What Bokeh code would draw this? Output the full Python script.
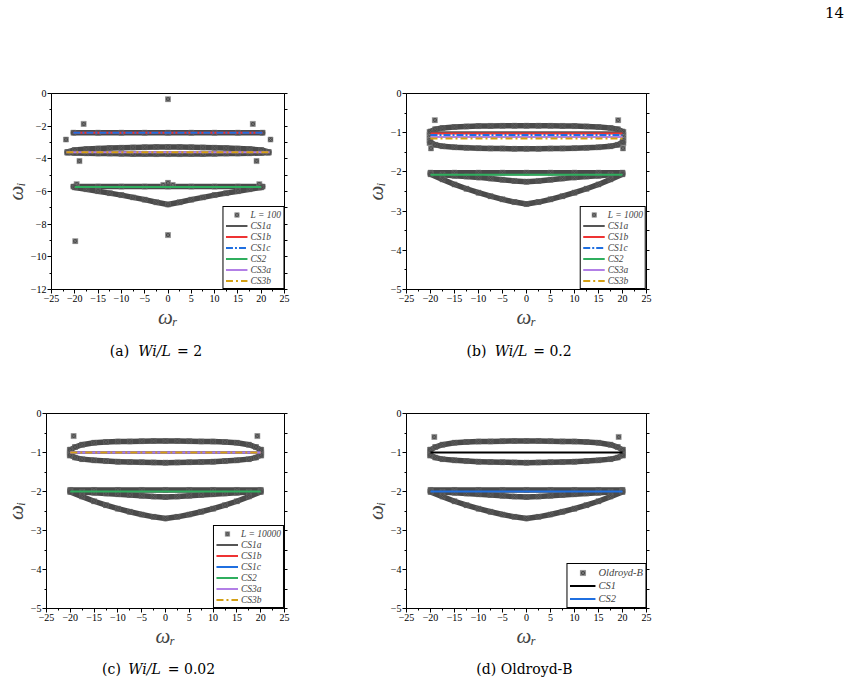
from bokeh.plotting import figure
from bokeh.layouts import column, row
from bokeh.models import Range1d, FixedTicker, LinearAxis, Legend, LegendItem, Label
from bokeh.embed import file_html
from bokeh.resources import INLINE

# ---------------- ticks ----------------
X_TICKS = [-25, -20, -15, -10, -5, 0, 5, 10, 15, 20, 25]
X_MINOR = [-22.5, -17.5, -12.5, -7.5, -2.5, 2.5, 7.5, 12.5, 17.5, 22.5]
YA_TICKS = [0, -2, -4, -6, -8, -10, -12]
YA_MINOR = [-1, -3, -5, -7, -9, -11]
YB_TICKS = [0, -1, -2, -3, -4, -5]
YB_MINOR = [-0.5, -1.5, -2.5, -3.5, -4.5]

# ---------------- panel (a): Wi/L = 2, L = 100 ----------------
A_BAND1_X = [-20.3, -15, -10, -5, 0, 5, 10, 15, 20.3]
A_BAND1_Y = [-2.40, -2.40, -2.40, -2.40, -2.40, -2.40, -2.40, -2.40, -2.40]
A_BAND2_X = [-21.6, -20, -17.5, -15, -12.5, -10, -7.5, -5, -2.5, 0, 2.5, 5, 7.5, 10, 12.5, 15, 17.5, 20, 21.6]
A_BAND2U_Y = [-3.58, -3.46, -3.40, -3.37, -3.34, -3.32, -3.30, -3.29, -3.28, -3.28, -3.28, -3.29, -3.30, -3.32, -3.34, -3.37, -3.40, -3.46, -3.58]
A_BAND2L_Y = [-3.62, -3.64, -3.66, -3.67, -3.68, -3.69, -3.70, -3.70, -3.71, -3.71, -3.71, -3.70, -3.70, -3.69, -3.68, -3.67, -3.66, -3.64, -3.62]
A_BAND3_X = [-20.3, -15, -10, -5, 0, 5, 10, 15, 20.3]
A_BAND3_Y = [-5.70, -5.70, -5.70, -5.70, -5.70, -5.70, -5.70, -5.70, -5.70]
A_V_X = [-20, -17.5, -15, -12.5, -10, -7.5, -5, -2.5, 0, 2.5, 5, 7.5, 10, 12.5, 15, 17.5, 20]
A_V_Y = [-5.75, -5.86, -5.98, -6.10, -6.22, -6.36, -6.50, -6.66, -6.80, -6.66, -6.50, -6.36, -6.22, -6.10, -5.98, -5.86, -5.75]
A_ISO_X = [0, -18.1, 18.2, -21.9, 22.0, -19.0, 19.0, -19.6, 19.6, -1.0, 0, 1.0, -19.9, 0]
A_ISO_Y = [-0.35, -1.86, -1.86, -2.82, -2.82, -4.14, -4.14, -5.55, -5.55, -5.60, -5.47, -5.60, -9.04, -8.67]
A_CS1_X = [-20.3, 20.3]
A_CS1A_Y = [-2.40, -2.40]
A_CS1B_Y = [-2.40, -2.40]
A_CS1C_Y = [-2.40, -2.40]
A_CS2_X = [-20, 20]
A_CS2_Y = [-5.73, -5.73]
A_CS3_X = [-21.8, 21.8]
A_CS3A_Y = [-3.60, -3.60]
A_CS3B_Y = [-3.60, -3.60]

# ---------------- panel (b): Wi/L = 0.2, L = 1000 ----------------
B_LENS_X = [-20, -19, -17.5, -15, -12.5, -10, -7.5, -5, -2.5, 0, 2.5, 5, 7.5, 10, 12.5, 15, 17.5, 19, 20]
B_LENSU_Y = [-0.97, -0.91, -0.88, -0.855, -0.84, -0.832, -0.827, -0.825, -0.823, -0.823, -0.823, -0.825, -0.827, -0.832, -0.84, -0.855, -0.88, -0.91, -0.97]
B_LENSL_Y = [-1.24, -1.31, -1.345, -1.37, -1.385, -1.395, -1.40, -1.405, -1.41, -1.41, -1.41, -1.405, -1.40, -1.395, -1.385, -1.37, -1.345, -1.31, -1.24]
B_FLAT_X = [-20, -15, -10, -5, 0, 5, 10, 15, 20]
B_FLAT_Y = [-2.02, -2.02, -2.02, -2.02, -2.02, -2.02, -2.02, -2.02, -2.02]
B_LOW_X = [-20, -17.5, -15, -12.5, -10, -7.5, -5, -2.5, 0, 2.5, 5, 7.5, 10, 12.5, 15, 17.5, 20]
B_ARC_Y = [-2.04, -2.07, -2.10, -2.12, -2.14, -2.17, -2.20, -2.23, -2.25, -2.23, -2.20, -2.17, -2.14, -2.12, -2.10, -2.07, -2.04]
B_V_Y = [-2.06, -2.19, -2.32, -2.43, -2.53, -2.62, -2.70, -2.77, -2.82, -2.77, -2.70, -2.62, -2.53, -2.43, -2.32, -2.19, -2.06]
B_ISO_X = [-19.1, 19.1, -19.9, 20.1, -20.2, -20.2, -20.2, -20.2, -20.2, 20.2, 20.2, 20.2, 20.2, 20.2]
B_ISO_Y = [-0.68, -0.68, -1.40, -1.40, -0.98, -1.05, -1.12, -1.19, -1.26, -0.98, -1.05, -1.12, -1.19, -1.26]
B_LINE_X = [-20, 20]
B_CS1A_Y = [-0.99, -0.99]
B_CS1B_Y = [-1.02, -1.02]
B_CS1C_Y = [-1.06, -1.06]
B_CS2_Y = [-2.07, -2.07]
B_CS3A_Y = [-1.11, -1.11]
B_CS3B_Y = [-1.15, -1.15]

# ---------------- panel (c): Wi/L = 0.02, L = 10000 ----------------
C_LENS_X = [-20, -19, -17.5, -15, -12.5, -10, -7.5, -5, -2.5, 0, 2.5, 5, 7.5, 10, 12.5, 15, 17.5, 19, 20]
C_LENSU_Y = [-0.93, -0.86, -0.80, -0.75, -0.73, -0.72, -0.715, -0.71, -0.705, -0.705, -0.705, -0.71, -0.715, -0.72, -0.73, -0.75, -0.80, -0.86, -0.93]
C_LENSL_Y = [-1.07, -1.13, -1.17, -1.20, -1.22, -1.235, -1.245, -1.25, -1.255, -1.26, -1.255, -1.25, -1.245, -1.235, -1.22, -1.20, -1.17, -1.13, -1.07]
C_FLAT_X = [-20, -15, -10, -5, 0, 5, 10, 15, 20]
C_FLAT_Y = [-1.96, -1.96, -1.96, -1.96, -1.96, -1.96, -1.96, -1.96, -1.96]
C_LOW_X = [-20, -17.5, -15, -12.5, -10, -7.5, -5, -2.5, 0, 2.5, 5, 7.5, 10, 12.5, 15, 17.5, 20]
C_ARC_Y = [-1.99, -2.01, -2.03, -2.05, -2.07, -2.09, -2.11, -2.13, -2.14, -2.13, -2.11, -2.09, -2.07, -2.05, -2.03, -2.01, -1.99]
C_V_Y = [-2.01, -2.13, -2.25, -2.35, -2.44, -2.52, -2.59, -2.65, -2.69, -2.65, -2.59, -2.52, -2.44, -2.35, -2.25, -2.13, -2.01]
C_ISO_X = [-19.3, 19.3, -20.1, -20.1, -20.1, -20.1, 20.1, 20.1, 20.1, 20.1]
C_ISO_Y = [-0.58, -0.58, -0.93, -0.98, -1.03, -1.08, -0.93, -0.98, -1.03, -1.08]
C_LINE_X = [-20, 20]
C_CS1_Y = [-1.0, -1.0]
C_CS2_Y = [-2.0, -2.0]
C_CS3_Y = [-1.0, -1.0]

# ---------------- panel (d): Oldroyd-B ----------------
D_LENS_X = [-20, -19, -17.5, -15, -12.5, -10, -7.5, -5, -2.5, 0, 2.5, 5, 7.5, 10, 12.5, 15, 17.5, 19, 20]
D_LENSU_Y = [-0.93, -0.86, -0.80, -0.75, -0.73, -0.72, -0.715, -0.71, -0.705, -0.705, -0.705, -0.71, -0.715, -0.72, -0.73, -0.75, -0.80, -0.86, -0.93]
D_LENSL_Y = [-1.07, -1.13, -1.17, -1.20, -1.22, -1.235, -1.245, -1.25, -1.255, -1.26, -1.255, -1.25, -1.245, -1.235, -1.22, -1.20, -1.17, -1.13, -1.07]
D_FLAT_X = [-20, -15, -10, -5, 0, 5, 10, 15, 20]
D_FLAT_Y = [-1.96, -1.96, -1.96, -1.96, -1.96, -1.96, -1.96, -1.96, -1.96]
D_LOW_X = [-20, -17.5, -15, -12.5, -10, -7.5, -5, -2.5, 0, 2.5, 5, 7.5, 10, 12.5, 15, 17.5, 20]
D_ARC_Y = [-1.99, -2.01, -2.03, -2.05, -2.07, -2.09, -2.11, -2.13, -2.14, -2.13, -2.11, -2.09, -2.07, -2.05, -2.03, -2.01, -1.99]
D_V_Y = [-2.01, -2.13, -2.25, -2.35, -2.44, -2.52, -2.59, -2.65, -2.69, -2.65, -2.59, -2.52, -2.44, -2.35, -2.25, -2.13, -2.01]
D_ISO_X = [-19.2, 19.2, -20.1, -20.1, -20.1, -20.1, 20.1, 20.1, 20.1, 20.1]
D_ISO_Y = [-0.60, -0.60, -0.93, -0.98, -1.03, -1.08, -0.93, -0.98, -1.03, -1.08]
D_LINE_X = [-20, 20]
D_CS1_Y = [-1.0, -1.0]
D_CS2_Y = [-2.0, -2.0]

# ---------------- captions / page number ----------------
PAGE_NUMBER = "14"
CAPTION_TOP = [("(a)", "normal"), ("Wi/L", "italic"), ("= 2", "normal"),
               ("(b)", "normal"), ("Wi/L", "italic"), ("= 0.2", "normal")]
CAPTION_BOTTOM = [("(c)", "normal"), ("Wi/L", "italic"), ("= 0.02", "normal"),
                  ("(d) Oldroyd-B", "normal")]

# ---------------- styles ----------------
GRAY = "#4a4a4a"
C_CS1A = "#555555"
C_CS1B = "#ee3333"
C_CS1C = "#1f6fe0"
C_CS2 = "#2fae5e"
C_CS3A = "#b27fe6"
C_CS3B = "#d4a015"
SERIF = "Liberation Serif"
CAP_FONT = "DejaVu Serif"


def make_panel(w, h, b_left, b_right, b_top, b_bottom, y_lo, y_ticks, y_minor,
               bands, iso_x, iso_y, lines, pts_label, legend_glyph_h,
               legend_font="9.5px", legend_glyph_w=22):
    p = figure(width=w, height=h, output_backend="svg", toolbar_location=None,
               x_range=Range1d(-25, 25), y_range=Range1d(y_lo, 0),
               min_border_left=b_left, min_border_right=b_right,
               min_border_top=b_top, min_border_bottom=b_bottom,
               background_fill_color="white", border_fill_color="white")
    p.xgrid.visible = False
    p.ygrid.visible = False
    p.outline_line_color = "black"
    p.outline_line_width = 1
    p.outline_line_alpha = 1

    p.xaxis.ticker = FixedTicker(ticks=X_TICKS, minor_ticks=X_MINOR)
    p.yaxis.ticker = FixedTicker(ticks=y_ticks, minor_ticks=y_minor)
    p.xaxis.axis_label = "ωᵣ"
    p.yaxis.axis_label = "ωᵢ"
    for ax in (p.xaxis[0], p.yaxis[0]):
        ax.axis_label_text_font = SERIF
        ax.axis_label_text_font_style = "italic"
        ax.axis_label_text_font_size = "21px"
        ax.axis_label_standoff = 0
        ax.major_label_text_font = SERIF
        ax.major_label_text_font_size = "10px"
        ax.major_label_text_color = "black"
        ax.major_label_standoff = 1
        ax.axis_line_color = "black"
        ax.major_tick_line_color = "black"
        ax.minor_tick_line_color = "black"
        ax.major_tick_in = 0
        ax.major_tick_out = 4
        ax.minor_tick_in = 0
        ax.minor_tick_out = 2
    # right frame axis: ticks only (no labels)
    right = LinearAxis(ticker=FixedTicker(ticks=[], minor_ticks=sorted(y_ticks + y_minor)),
                       axis_line_color="black", minor_tick_in=0, minor_tick_out=3,
                       minor_tick_line_color="black")
    p.add_layout(right, "right")

    for bx, by in bands:
        p.line(bx, by, line_width=5.5, line_color=GRAY, line_cap="round", line_join="round")
    pts = p.scatter(iso_x, iso_y, marker="square_x", size=5, fill_color=GRAY,
                    line_color="#8f8f8f", line_width=0.6)
    for bx, by in bands:
        p.scatter(bx, by, marker="square_x", size=5, fill_color=GRAY,
                  line_color="#6a6a6a", line_width=0.5)

    items = [LegendItem(label=pts_label, renderers=[pts])]
    for lab, lx, ly, col, dash in lines:
        r = p.line(lx, ly, line_width=2, line_color=col, line_dash=dash)
        items.append(LegendItem(label=lab, renderers=[r]))

    leg = Legend(items=items, location="bottom_right",
                 border_line_color="black", border_line_width=1, border_line_alpha=1,
                 background_fill_color="white", background_fill_alpha=1,
                 label_text_font=SERIF, label_text_font_style="italic",
                 label_text_font_size=legend_font, label_height=legend_glyph_h,
                 glyph_height=legend_glyph_h, glyph_width=legend_glyph_w, label_standoff=3,
                 spacing=0, padding=2, margin=0)
    p.add_layout(leg)
    return p


def text_strip(h, pieces, sy, size):
    s = figure(width=851, height=h, output_backend="svg", toolbar_location=None,
               x_axis_type=None, y_axis_type=None, min_border=0,
               x_range=Range1d(0, 1), y_range=Range1d(0, 1),
               background_fill_color="white", border_fill_color="white")
    s.outline_line_color = None
    s.xgrid.visible = False
    s.ygrid.visible = False
    for (text, style), sx in pieces:
        s.add_layout(Label(x=sx, y=sy, x_units="screen", y_units="screen", text=text,
                           text_font=CAP_FONT, text_font_size=size, text_font_style=style,
                           text_align="center", text_baseline="middle", text_color="black"))
    return s


header = text_strip(25, [((PAGE_NUMBER, "normal"), 834)], 13, "15px")

pa = make_panel(360, 310, 42, 76, 68, 46, -12, YA_TICKS, YA_MINOR,
                [(A_BAND1_X, A_BAND1_Y), (A_BAND2_X, A_BAND2U_Y), (A_BAND2_X, A_BAND2L_Y),
                 (A_BAND3_X, A_BAND3_Y), (A_V_X, A_V_Y)],
                A_ISO_X, A_ISO_Y,
                [("CS1a", A_CS1_X, A_CS1A_Y, C_CS1A, "solid"),
                 ("CS1b", A_CS1_X, A_CS1B_Y, C_CS1B, "solid"),
                 ("CS1c", A_CS1_X, A_CS1C_Y, C_CS1C, "7 2 2 2"),
                 ("CS2", A_CS2_X, A_CS2_Y, C_CS2, "solid"),
                 ("CS3a", A_CS3_X, A_CS3A_Y, C_CS3A, "solid"),
                 ("CS3b", A_CS3_X, A_CS3B_Y, C_CS3B, "7 3 2 3")],
                "L = 100", 11)

pb = make_panel(491, 310, 42, 205, 68, 46, -5, YB_TICKS, YB_MINOR,
                [(B_LENS_X, B_LENSU_Y), (B_LENS_X, B_LENSL_Y), (B_FLAT_X, B_FLAT_Y),
                 (B_LOW_X, B_ARC_Y), (B_LOW_X, B_V_Y)],
                B_ISO_X, B_ISO_Y,
                [("CS1a", B_LINE_X, B_CS1A_Y, C_CS1A, "solid"),
                 ("CS1b", B_LINE_X, B_CS1B_Y, C_CS1B, "solid"),
                 ("CS1c", B_LINE_X, B_CS1C_Y, C_CS1C, "7 2 2 2"),
                 ("CS2", B_LINE_X, B_CS2_Y, C_CS2, "solid"),
                 ("CS3a", B_LINE_X, B_CS3A_Y, C_CS3A, "solid"),
                 ("CS3b", B_LINE_X, B_CS3B_Y, C_CS3B, "7 3 2 3")],
                "L = 1000", 11)

cap_top = text_strip(30, list(zip(CAPTION_TOP, [119, 154, 189, 476, 510.5, 552])), 15, "14px")

pc = make_panel(360, 290, 42, 76, 48, 47, -5, YB_TICKS, YB_MINOR,
                [(C_LENS_X, C_LENSU_Y), (C_LENS_X, C_LENSL_Y), (C_FLAT_X, C_FLAT_Y),
                 (C_LOW_X, C_ARC_Y), (C_LOW_X, C_V_Y)],
                C_ISO_X, C_ISO_Y,
                [("CS1a", C_LINE_X, C_CS1_Y, C_CS1A, "solid"),
                 ("CS1b", C_LINE_X, C_CS1_Y, C_CS1B, "solid"),
                 ("CS1c", C_LINE_X, C_CS1_Y, C_CS1C, "solid"),
                 ("CS2", C_LINE_X, C_CS2_Y, C_CS2, "solid"),
                 ("CS3a", C_LINE_X, C_CS3_Y, C_CS3A, "solid"),
                 ("CS3b", C_LINE_X, C_CS3_Y, C_CS3B, "7 3 2 3")],
                "L = 10000", 11)

pd = make_panel(491, 290, 42, 205, 48, 47, -5, YB_TICKS, YB_MINOR,
                [(D_LENS_X, D_LENSU_Y), (D_LENS_X, D_LENSL_Y), (D_FLAT_X, D_FLAT_Y),
                 (D_LOW_X, D_ARC_Y), (D_LOW_X, D_V_Y)],
                D_ISO_X, D_ISO_Y,
                [("CS1", D_LINE_X, D_CS1_Y, "black", "solid"),
                 ("CS2", D_LINE_X, D_CS2_Y, C_CS1C, "solid")],
                "Oldroyd-B", 13, legend_font="10.5px", legend_glyph_w=26)

cap_bottom = text_strip(29, list(zip(CAPTION_BOTTOM, [111, 144, 191, 524])), 16, "14px")

layout = column(header, row(pa, pb), cap_top, row(pc, pd), cap_bottom)
open("out.html", "w").write(file_html(layout, INLINE))
